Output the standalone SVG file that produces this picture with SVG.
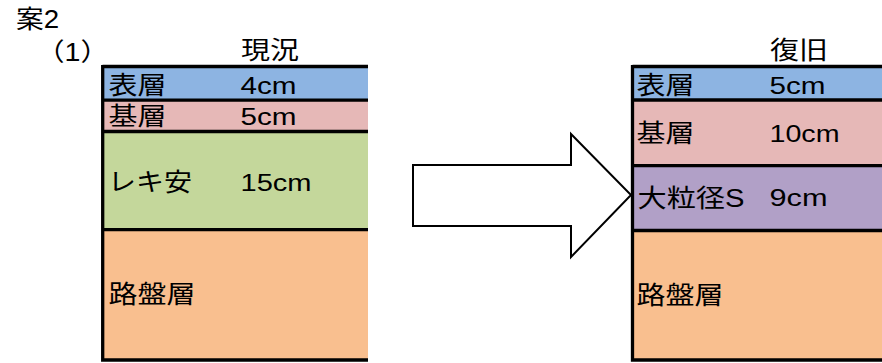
<svg xmlns="http://www.w3.org/2000/svg" width="882" height="363" viewBox="0 0 882 363">
<style>
text{font-family:"Liberation Sans","Noto Sans CJK JP",sans-serif;font-size:25px;fill:#000;dominant-baseline:central}
text.n{font-size:23.5px}
.ln{stroke:#000;stroke-width:3.3;fill:none}
.blue{fill:#8DB4E2}.pink{fill:#E6B8B7}.green{fill:#C4D79B}.purple{fill:#B1A0C7}.orange{fill:#F9BF8F}
.arrow{fill:#fff;stroke:#000;stroke-width:2;stroke-linejoin:miter}
</style>
<rect width="882" height="363" fill="#fff"/>
<g id="titles">
<text x="16" y="19" textLength="43" lengthAdjust="spacingAndGlyphs">案2</text>
<text x="36" y="52" textLength="73" lengthAdjust="spacingAndGlyphs">（1）</text>
<text x="241" y="50" textLength="58" lengthAdjust="spacingAndGlyphs">現況</text>
<text x="770" y="50" textLength="58" lengthAdjust="spacingAndGlyphs">復旧</text>
</g>
<g id="current">
<g id="cur-surface"><rect class="blue" x="103" y="67" width="265" height="33"/>
<text x="108.5" y="85" textLength="58" lengthAdjust="spacingAndGlyphs">表層</text>
<text class="n" x="240.5" y="86" textLength="56" lengthAdjust="spacingAndGlyphs">4cm</text></g>
<g id="cur-base"><rect class="pink" x="103" y="100" width="265" height="32"/>
<text x="108.5" y="116" textLength="58" lengthAdjust="spacingAndGlyphs">基層</text>
<text class="n" x="240.5" y="117" textLength="56" lengthAdjust="spacingAndGlyphs">5cm</text></g>
<g id="cur-gravel"><rect class="green" x="103" y="132" width="265" height="98"/>
<text x="108" y="182" textLength="84" lengthAdjust="spacingAndGlyphs">レキ安</text>
<text class="n" x="240.5" y="183" textLength="71" lengthAdjust="spacingAndGlyphs">15cm</text></g>
<g id="cur-roadbed"><rect class="orange" x="103" y="230" width="265" height="130"/>
<text x="108.5" y="294" textLength="87" lengthAdjust="spacingAndGlyphs">路盤層</text></g>
<path class="ln" d="M102.5,66.5H368M102.5,100.2H368M102.5,131.5H368M102.5,229.7H368M102.5,360H368M102.7,65V361.7"/>
</g>
<g id="restored">
<g id="res-surface"><rect class="blue" x="633" y="67" width="249" height="33"/>
<text x="636.5" y="85" textLength="58" lengthAdjust="spacingAndGlyphs">表層</text>
<text class="n" x="769.5" y="86" textLength="56" lengthAdjust="spacingAndGlyphs">5cm</text></g>
<g id="res-base"><rect class="pink" x="633" y="100" width="249" height="66"/>
<text x="636.5" y="133" textLength="58" lengthAdjust="spacingAndGlyphs">基層</text>
<text class="n" x="769.5" y="134" textLength="70" lengthAdjust="spacingAndGlyphs">10cm</text></g>
<g id="res-coarse"><rect class="purple" x="633" y="166" width="249" height="64"/>
<text x="637.5" y="197.5" textLength="107" lengthAdjust="spacingAndGlyphs">大粒径S</text>
<text class="n" x="769.5" y="198" textLength="58" lengthAdjust="spacingAndGlyphs">9cm</text></g>
<g id="res-roadbed"><rect class="orange" x="633" y="230" width="249" height="130"/>
<text x="636.5" y="295" textLength="87" lengthAdjust="spacingAndGlyphs">路盤層</text></g>
<path class="ln" d="M632.5,66.5H882M632.5,100H882M632.5,165.7H882M632.5,230.5H882M632.5,360H882M632.5,65V361.7"/>
</g>
<g id="connectors">
<polygon class="arrow" points="413,165 571,165 571,134 631,195 571,257 571,226 413,226"/>
</g>
</svg>
